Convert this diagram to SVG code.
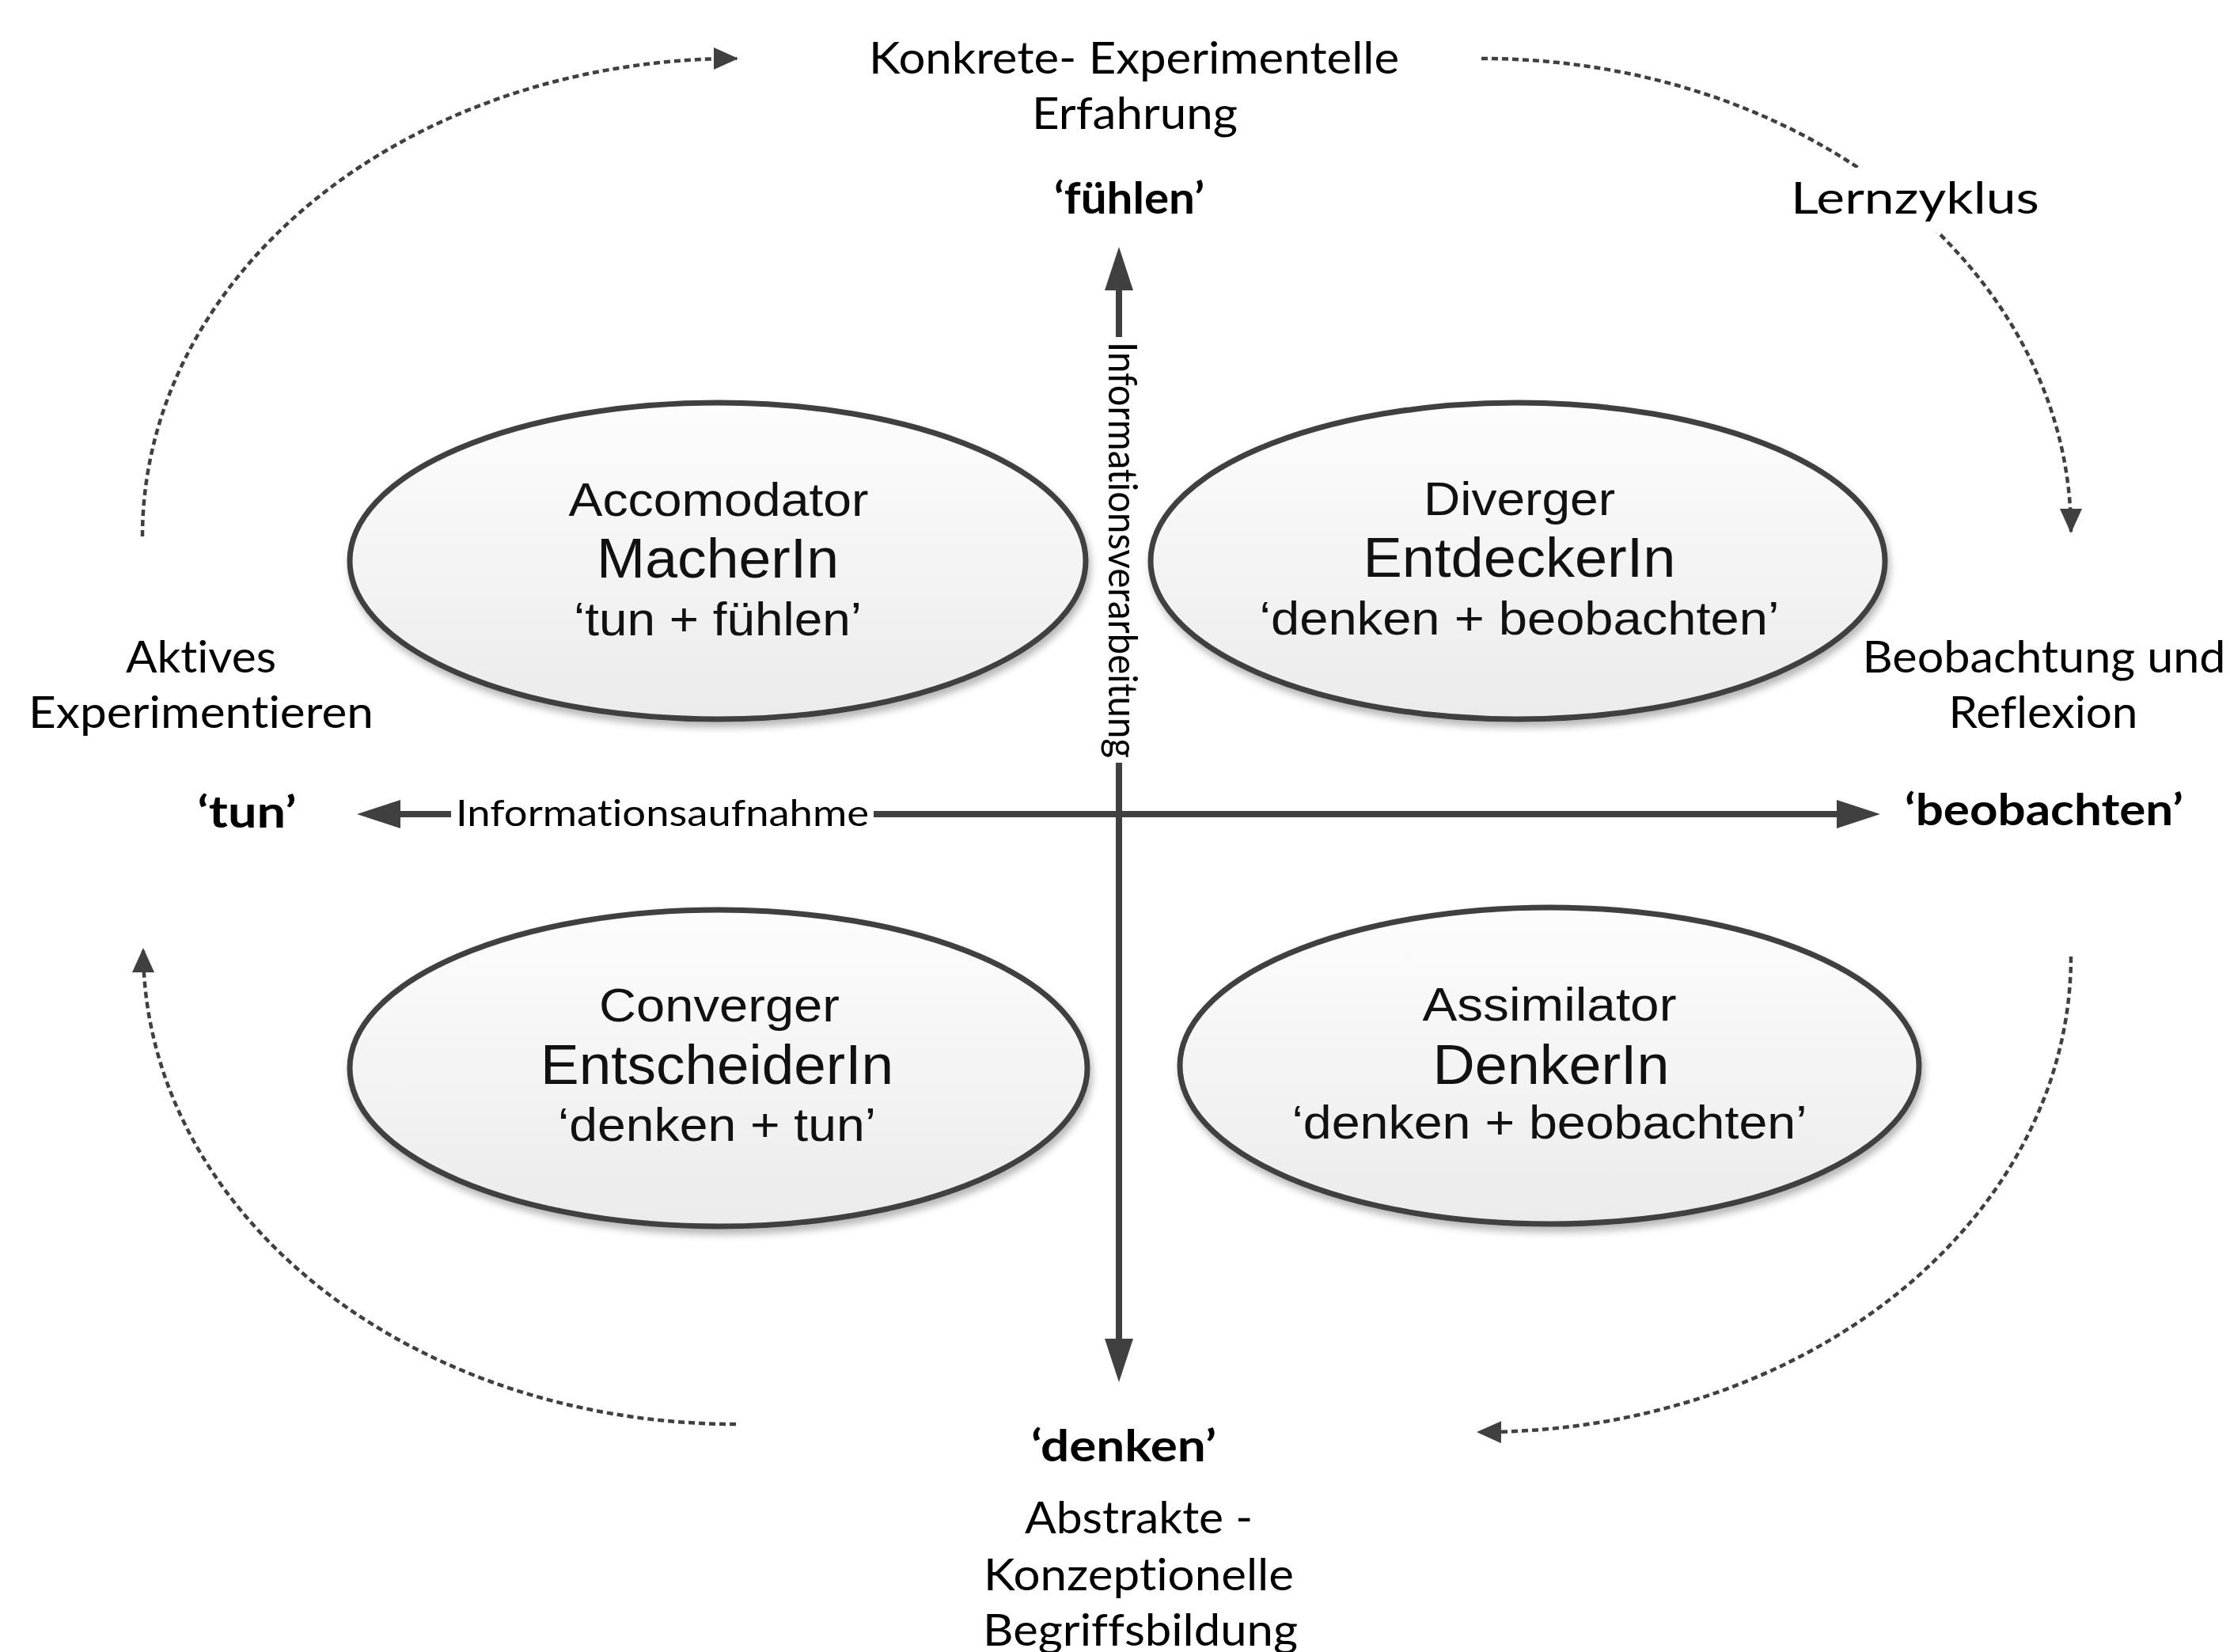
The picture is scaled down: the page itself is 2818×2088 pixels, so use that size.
<svg xmlns="http://www.w3.org/2000/svg" width="2818" height="2088" viewBox="0 0 2818 2088">
<defs>
  <style>
    .cal { font-family: Lato, "Open Sans", "Liberation Sans", sans-serif; font-size: 56px; fill: #000; text-anchor: middle; font-variant-ligatures: none; font-feature-settings: "liga" 0, "clig" 0; }
    .b { font-weight: bold; }
    .et { font-family: "Liberation Sans", Arial, sans-serif; fill: #111; text-anchor: middle; }
    .t1 { font-size: 60px; }
    .t2 { font-size: 70px; }
    .t3 { font-size: 60px; }
    .ell { fill: url(#ellFill); stroke: #404040; stroke-width: 7; filter: url(#shadow); }
    .axis { stroke: #404040; stroke-width: 8; fill: none; }
    .cycle { stroke: #404040; stroke-width: 4.5; stroke-dasharray: 8 5; fill: none; }
    .bg { fill: #fff; }
  </style>
  <linearGradient id="ellFill" x1="0" y1="0" x2="0" y2="1">
    <stop offset="0" stop-color="#fdfdfd"/>
    <stop offset="1" stop-color="#ebebeb"/>
  </linearGradient>
  <filter id="shadow" x="-10%" y="-10%" width="125%" height="135%">
    <feDropShadow dx="3" dy="7" stdDeviation="5" flood-color="#000" flood-opacity="0.28"/>
  </filter>
  <marker id="axisHead" markerUnits="userSpaceOnUse" viewBox="0 0 56 36" markerWidth="56" markerHeight="36" refX="15" refY="18" orient="auto-start-reverse">
    <path d="M0,0 L55,18 L0,36 z" fill="#404040"/>
  </marker>
  <marker id="cycleHead" markerUnits="userSpaceOnUse" viewBox="0 0 32 28" markerWidth="32" markerHeight="28" refX="29" refY="14" orient="auto">
    <path d="M0,0 L31,14 L0,28 z" fill="#404040"/>
  </marker>
</defs>

<rect x="0" y="0" width="2818" height="2088" fill="#fff"/>

<g id="connectors">
  <line class="axis" x1="491" y1="1029" x2="2336" y2="1029" marker-start="url(#axisHead)" marker-end="url(#axisHead)"/>
  <line class="axis" x1="1414" y1="352" x2="1414" y2="1707" marker-start="url(#axisHead)" marker-end="url(#axisHead)"/>
  <path class="cycle" d="M 180 678 A 751 604 0 0 1 931 74" marker-end="url(#cycleHead)"/>
  <path class="cycle" d="M 1872 74 A 745 598 0 0 1 2617 672" marker-end="url(#cycleHead)"/>
  <path class="cycle" d="M 2617 1209 A 745 601 0 0 1 1868 1810" marker-end="url(#cycleHead)"/>
  <path class="cycle" d="M 930 1800 A 749 600 0 0 1 181 1200" marker-end="url(#cycleHead)"/>
</g>

<g id="node-accomodator">
  <ellipse class="ell" cx="907" cy="709" rx="465" ry="200"/>
  <text class="et t1" x="908" y="652" textLength="379" lengthAdjust="spacingAndGlyphs">Accomodator</text>
  <text class="et t2" x="907" y="730" textLength="306" lengthAdjust="spacingAndGlyphs">MacherIn</text>
  <text class="et t3" x="907" y="803" textLength="364" lengthAdjust="spacingAndGlyphs">‘tun + fühlen’</text>
</g>

<g id="node-diverger">
  <ellipse class="ell" cx="1918" cy="709" rx="464" ry="200"/>
  <text class="et t1" x="1920" y="651" textLength="242" lengthAdjust="spacingAndGlyphs">Diverger</text>
  <text class="et t2" x="1920" y="729" textLength="395" lengthAdjust="spacingAndGlyphs">EntdeckerIn</text>
  <text class="et t3" x="1920" y="802" textLength="657" lengthAdjust="spacingAndGlyphs">‘denken + beobachten’</text>
</g>

<g id="node-converger">
  <ellipse class="ell" cx="908" cy="1350" rx="466" ry="200"/>
  <text class="et t1" x="909" y="1291" textLength="304" lengthAdjust="spacingAndGlyphs">Converger</text>
  <text class="et t2" x="906" y="1370" textLength="446" lengthAdjust="spacingAndGlyphs">EntscheiderIn</text>
  <text class="et t3" x="906" y="1442" textLength="402" lengthAdjust="spacingAndGlyphs">‘denken + tun’</text>
</g>

<g id="node-assimilator">
  <ellipse class="ell" cx="1958" cy="1347" rx="467" ry="200"/>
  <text class="et t1" x="1958" y="1290" textLength="321" lengthAdjust="spacingAndGlyphs">Assimilator</text>
  <text class="et t2" x="1960" y="1370" textLength="299" lengthAdjust="spacingAndGlyphs">DenkerIn</text>
  <text class="et t3" x="1958" y="1439" textLength="651" lengthAdjust="spacingAndGlyphs">‘denken + beobachten’</text>
</g>

<g id="label-konkrete">
  <text class="cal" x="1433" y="93" textLength="670" lengthAdjust="spacingAndGlyphs">Konkrete- Experimentelle</text>
  <text class="cal" x="1434" y="163" textLength="260" lengthAdjust="spacingAndGlyphs">Erfahrung</text>
</g>
<g id="label-fuehlen">
  <text class="cal b" x="1427" y="270" textLength="190" lengthAdjust="spacingAndGlyphs">‘fühlen’</text>
</g>
<g id="label-lernzyklus">
  <rect class="bg" x="2250" y="212" width="340" height="82"/>
  <text class="cal" x="2420" y="270" textLength="314" lengthAdjust="spacingAndGlyphs">Lernzyklus</text>
</g>
<g id="label-aktives">
  <text class="cal" x="254" y="850" textLength="190" lengthAdjust="spacingAndGlyphs">Aktives</text>
  <text class="cal" x="254" y="920" textLength="436" lengthAdjust="spacingAndGlyphs">Experimentieren</text>
</g>
<g id="label-tun">
  <text class="cal b" x="312" y="1046" textLength="125" lengthAdjust="spacingAndGlyphs">‘tun’</text>
</g>
<g id="label-informationsaufnahme">
  <rect class="bg" x="570" y="1006" width="534" height="48"/>
  <text class="cal" x="837" y="1044" style="font-size:46px" textLength="522" lengthAdjust="spacingAndGlyphs">Informationsaufnahme</text>
</g>
<g id="label-informationsverarbeitung">
  <rect class="bg" x="1390" y="426" width="52" height="538"/>
  <text class="cal" transform="translate(1401,695) rotate(90)" x="0" y="0" style="font-size:50px" textLength="526" lengthAdjust="spacingAndGlyphs">Informationsverarbeitung</text>
</g>
<g id="label-beobachtung">
  <text class="cal" x="2583" y="850" textLength="459" lengthAdjust="spacingAndGlyphs">Beobachtung und</text>
  <text class="cal" x="2582" y="920" textLength="239" lengthAdjust="spacingAndGlyphs">Reflexion</text>
</g>
<g id="label-beobachten">
  <text class="cal b" x="2583" y="1043" textLength="352" lengthAdjust="spacingAndGlyphs">‘beobachten’</text>
</g>
<g id="label-denken">
  <text class="cal b" x="1420" y="1847" textLength="234" lengthAdjust="spacingAndGlyphs">‘denken’</text>
</g>
<g id="label-abstrakte">
  <text class="cal" x="1439" y="1938" textLength="288" lengthAdjust="spacingAndGlyphs">Abstrakte -</text>
  <text class="cal" x="1439" y="2010" textLength="392" lengthAdjust="spacingAndGlyphs">Konzeptionelle</text>
  <text class="cal" x="1441" y="2080" textLength="398" lengthAdjust="spacingAndGlyphs">Begriffsbildung</text>
</g>
</svg>
